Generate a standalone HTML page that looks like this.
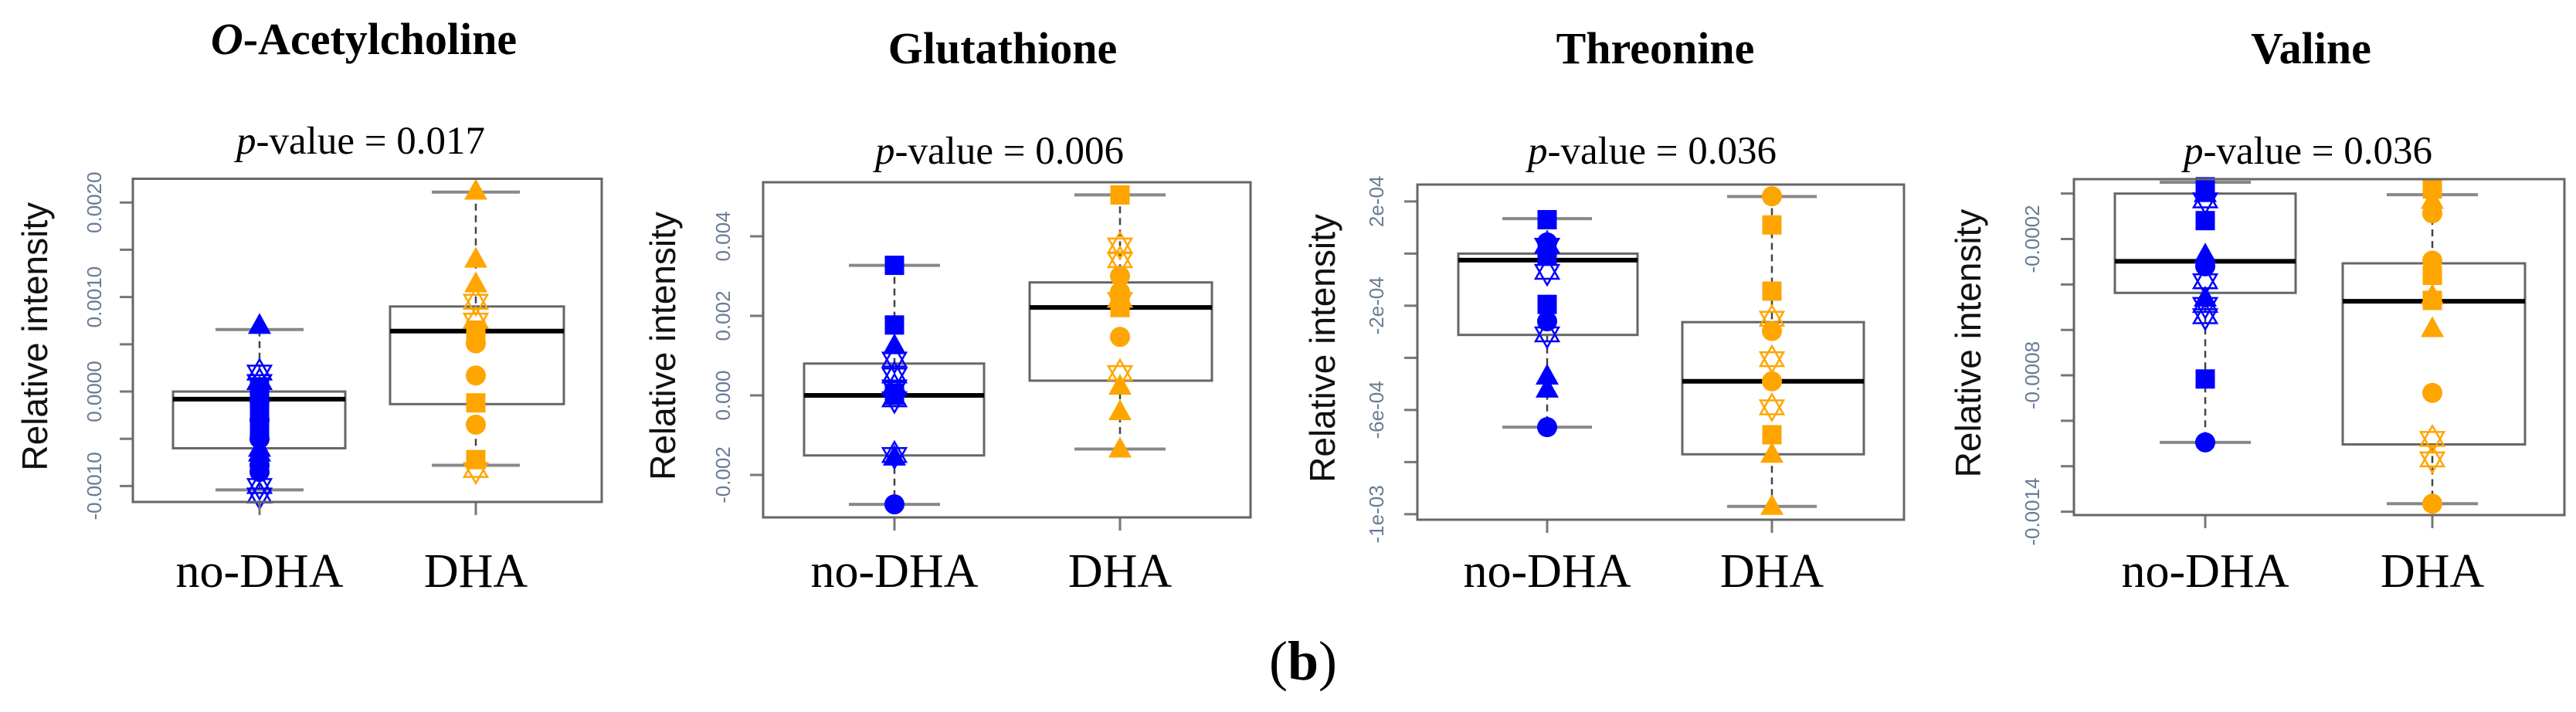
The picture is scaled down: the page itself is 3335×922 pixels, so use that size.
<!DOCTYPE html>
<html><head><meta charset="utf-8">
<style>
html,body{margin:0;padding:0;background:#fff;}
svg{display:block;}
.title{font-family:"Liberation Serif",serif;font-weight:bold;font-size:58px;fill:#000;}
.pval{font-family:"Liberation Serif",serif;font-size:51px;fill:#000;}
.cat{font-family:"Liberation Serif",serif;font-size:62px;fill:#000;}
.ylab{font-family:"Liberation Sans",sans-serif;font-size:46px;fill:#111;}
.tick{font-family:"Liberation Sans",sans-serif;font-size:26px;fill:#6a7c95;}
</style></head>
<body>
<svg id="chart" width="3335" height="922" viewBox="0 0 3335 922" xmlns="http://www.w3.org/2000/svg">
<text x="1643" y="880" font-family="Liberation Serif, serif" font-size="72">(<tspan font-weight="bold">b</tspan>)</text>
</svg>
<script>
// ---------- data ----------
const titles = ["O-Acetylcholine", "Glutathione", "Threonine", "Valine"];
const pValues = ["0.017", "0.006", "0.036", "0.036"];
const categories = ["no-DHA", "DHA"];

// box stats: [lowerWhisker, q1, median, q3, upperWhisker]
const boxNoDHA1 = [-0.00104, -0.0006, -0.00008, 0.0, 0.000656];
const boxDHA1 = [-0.00078, -0.000133, 0.00064, 0.0009, 0.00211];
const boxNoDHA2 = [-0.00274, -0.00151, 0.0, 0.0008, 0.00327];
const boxDHA2 = [-0.00135, 0.00037, 0.00221, 0.00284, 0.00504];
const boxNoDHA3 = [-0.000666, -0.000312, -0.000025, 0.0, 0.000134];
const boxDHA3 = [-0.00097, -0.00077, -0.00049, -0.000263, 0.000219];
const boxNoDHA4 = [-0.001095, -0.000437, -0.000298, 0.0, 0.00005];
const boxDHA4 = [-0.001365, -0.001104, -0.000474, -0.000307, -0.000005];

// points
const ptsNoDHA1 = [0.0007, 0.0002, 0.0001, 0.00005, 0.0, -0.0001, -0.0002, -0.0003, -0.0004, -0.0005, -0.0006, -0.00065, -0.00078, -0.00085, -0.001, -0.0011];
const shpNoDHA1 = ["tri","star","star","sq","sq","circ","sq","circ","sq","circ","tri","tri","circ","circ","star","star"];
const ptsDHA1 = [0.00212, 0.0014, 0.00114, 0.00095, 0.00075, 0.00065, 0.00051, 0.00017, -0.00012, -0.00035, -0.00072, -0.00083];
const shpDHA1 = ["tri","tri","tri","star","star","sq","circ","circ","sq","circ","sq","star"];

const ptsNoDHA2 = [0.00327, 0.00177, 0.00125, 0.0009, 0.0005, 0.0002, 0.00005, 0.0, -0.0001, -0.00155, -0.0015, -0.00274];
const shpNoDHA2 = ["sq","sq","tri","star","star","star","sq","sq","star","tri","star","circ"];
const ptsDHA2 = [0.00504, 0.00377, 0.0034, 0.003, 0.0026, 0.00221, 0.0024, 0.00147, 0.00056, 0.00023, -0.00041, -0.00135];
const shpDHA2 = ["sq","star","star","circ","circ","sq","star","circ","star","tri","tri","tri"];

const ptsNoDHA3 = [0.00013, 0.000043, 0.00003, -0.00001, -0.00007, -0.000195, -0.00026, -0.00031, -0.00047, -0.00052, -0.000666];
const shpNoDHA3 = ["sq","circ","star","sq","star","sq","circ","star","tri","tri","circ"];
const ptsDHA3 = [0.00022, 0.00011, -0.000144, -0.00025, -0.000297, -0.000405, -0.00049, -0.00059, -0.000695, -0.00077, -0.00097];
const shpDHA3 = ["circ","sq","sq","star","circ","star","circ","star","sq","tri","tri"];

const ptsNoDHA4 = [0.00003, 0.0, -0.00003, -0.000119, -0.00027, -0.00032, -0.000386, -0.00046, -0.00049, -0.00054, -0.000816, -0.001095];
const shpNoDHA4 = ["sq","tri","star","sq","tri","circ","star","tri","star","star","sq","circ"];
const ptsDHA4 = [0.00002, -0.00003, -0.000087, -0.000295, -0.00036, -0.00045, -0.00047, -0.000594, -0.000877, -0.00108, -0.00117, -0.001365];
const shpDHA4 = ["sq","tri","circ","circ","sq","tri","sq","tri","circ","star","star","circ"];

// ticks
const ticks1 = [0.002, 0.0015, 0.001, 0.0005, 0.0, -0.0005, -0.001];
const tickLabels1 = ["0.0020", "", "0.0010", "", "0.0000", "", "-0.0010"];
const ticks2 = [0.004, 0.002, 0.0, -0.002];
const tickLabels2 = ["0.004", "0.002", "0.000", "-0.002"];
const ticks3 = [0.0002, 0.0, -0.0002, -0.0004, -0.0006, -0.0008, -0.001];
const tickLabels3 = ["2e-04", "", "-2e-04", "", "-6e-04", "", "-1e-03"];
const ticks4 = [0.0, -0.0002, -0.0004, -0.0006, -0.0008, -0.001, -0.0012, -0.0014];
const tickLabels4 = ["", "-0.0002", "", "", "-0.0008", "", "", "-0.0014"];

// ---------- layout (pixels) ----------
const layout = [
  {l:172, r:779, t:231.5, b:650, domain:[-0.001168, 0.002251], cx:[336,616], bw:[224,447,505,730], capHalf:57, tickLabX:122, yTitleX:45, titleX:471, titleY:70, pX:467, pY:199},
  {l:988, r:1619, t:236, b:670, domain:[-0.003068, 0.005359], cx:[1158,1450], bw:[1041,1274,1333,1569], capHalf:59, tickLabX:936, yTitleX:858, titleX:1298, titleY:82, pX:1294, pY:212},
  {l:1835, r:2465, t:239, b:673, domain:[-0.001021, 0.0002648], cx:[2003,2294], bw:[1888,2120,2178,2413], capHalf:58, tickLabX:1782, yTitleX:1712, titleX:2143, titleY:82, pX:2139, pY:212},
  {l:2685, r:3320, t:232, b:667, domain:[-0.001415, 0.0000635], cx:[2855,3149], bw:[2738,2972,3033,3269], capHalf:59, tickLabX:2631, yTitleX:2548, titleX:2992, titleY:82, pX:2988, pY:212}
];
const boxes = [[boxNoDHA1, boxDHA1],[boxNoDHA2, boxDHA2],[boxNoDHA3, boxDHA3],[boxNoDHA4, boxDHA4]];
const pts = [[ptsNoDHA1, ptsDHA1],[ptsNoDHA2, ptsDHA2],[ptsNoDHA3, ptsDHA3],[ptsNoDHA4, ptsDHA4]];
const shps = [[shpNoDHA1, shpDHA1],[shpNoDHA2, shpDHA2],[shpNoDHA3, shpDHA3],[shpNoDHA4, shpDHA4]];
const ticks = [ticks1, ticks2, ticks3, ticks4];
const tickLabels = [tickLabels1, tickLabels2, tickLabels3, tickLabels4];
const colors = ["#0000ff", "#ffa500"];
const catY = 760;

const NS = "http://www.w3.org/2000/svg";
const svg = document.getElementById("chart");
function mk(tag, attrs, parent) {
  const e = document.createElementNS(NS, tag);
  for (const k in attrs) e.setAttribute(k, attrs[k]);
  (parent || svg).appendChild(e);
  return e;
}

layout.forEach((L, p) => {
  const yScale = v => L.b - (v - L.domain[0]) / (L.domain[1] - L.domain[0]) * (L.b - L.t);
  const g = mk("g", {});
  
  

  // titles
  const t = mk("text", {x: L.titleX, y: L.titleY, "text-anchor": "middle", class: "title"}, g);
  if (p === 0) { t.innerHTML = '<tspan font-style="italic">O</tspan>-Acetylcholine'; }
  else { t.textContent = titles[p]; }
  
  

  const pv = mk("text", {x: L.pX, y: L.pY, "text-anchor": "middle", class: "pval"}, g);
  pv.innerHTML = '<tspan font-style="italic">p</tspan>-value = ' + pValues[p];
  
  

  // y ticks
  ticks[p].forEach((tv, i) => {
    const y = yScale(tv);
    const tk = mk("line", {x1: L.l - 17, x2: L.l, y1: y, y2: y, stroke: "#777", "stroke-width": 3}, g);
    
    
    if (tickLabels[p][i]) {
      const tl = mk("text", {x: L.tickLabX, y: y, class: "tick", "text-anchor": "middle", "dominant-baseline": "central", transform: `rotate(-90 ${L.tickLabX} ${y})`}, g);
      tl.textContent = tickLabels[p][i];
      
      
    }
  });

  // y title
  const midY = (L.t + L.b) / 2 - 5;
  const yt = mk("text", {x: L.yTitleX, y: midY, class: "ylab", "text-anchor": "middle", "dominant-baseline": "central", transform: `rotate(-90 ${L.yTitleX} ${midY})`}, g);
  yt.textContent = "Relative intensity";
  
  

  // groups
  [0, 1].forEach(k => {
    const cx = L.cx[k];
    const st = boxes[p][k];
    const col = colors[k];
    const bx0 = L.bw[k * 2], bx1 = L.bw[k * 2 + 1];
    // whisker dashed
    const w1 = mk("line", {x1: cx, x2: cx, y1: yScale(st[4]), y2: yScale(st[3]), stroke: "#444", "stroke-width": 2.5, "stroke-dasharray": "9 6"}, g);
    
    
    const w2 = mk("line", {x1: cx, x2: cx, y1: yScale(st[1]), y2: yScale(st[0]), stroke: "#444", "stroke-width": 2.5, "stroke-dasharray": "9 6"}, g);
    
    
    const c1 = mk("line", {x1: cx - L.capHalf, x2: cx + L.capHalf, y1: yScale(st[4]), y2: yScale(st[4]), stroke: "#888", "stroke-width": 4}, g);
    
    
    const c2 = mk("line", {x1: cx - L.capHalf, x2: cx + L.capHalf, y1: yScale(st[0]), y2: yScale(st[0]), stroke: "#888", "stroke-width": 4}, g);
    
    
    const bx = mk("rect", {x: bx0, y: yScale(st[3]), width: bx1 - bx0, height: yScale(st[1]) - yScale(st[3]), fill: "none", stroke: "#666", "stroke-width": 3}, g);
    
    
    const md = mk("line", {x1: bx0, x2: bx1, y1: yScale(st[2]), y2: yScale(st[2]), stroke: "#000", "stroke-width": 6}, g);
    
    

    // points
    pts[p][k].forEach((v, i) => {
      const y = yScale(v);
      const s = shps[p][k][i];
      let e;
      if (s === "sq") {
        e = mk("rect", {x: cx - 12.5, y: y - 12.5, width: 25, height: 25, fill: col}, g);
      } else if (s === "circ") {
        e = mk("circle", {cx: cx, cy: y, r: 13, fill: col}, g);
      } else if (s === "tri") {
        e = mk("polygon", {points: `${cx},${y - 16} ${cx - 15},${y + 11} ${cx + 15},${y + 11}`, fill: col}, g);
      } else {
        e = mk("path", {d: `M${cx},${y - 17} L${cx - 15},${y + 9} L${cx + 15},${y + 9} Z M${cx},${y + 17} L${cx - 15},${y - 9} L${cx + 15},${y - 9} Z`, fill: "none", stroke: col, "stroke-width": 2.5}, g);
      }
      
      
    });

    // x tick & category label
    const xt = mk("line", {x1: cx, x2: cx, y1: L.b, y2: L.b + 17, stroke: "#777", "stroke-width": 3}, g);
    
    
    const cl = mk("text", {x: cx, y: catY, "text-anchor": "middle", class: "cat"}, g);
    cl.textContent = categories[k];
    
    
  });

  // frame
  const fr = mk("rect", {x: L.l, y: L.t, width: L.r - L.l, height: L.b - L.t, fill: "none", stroke: "#666", "stroke-width": 3}, g);
  
  
});
</script>
</body></html>
